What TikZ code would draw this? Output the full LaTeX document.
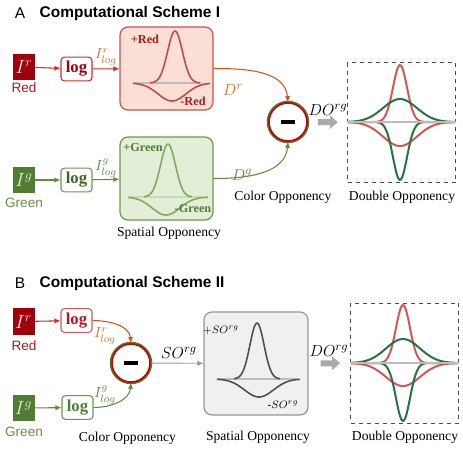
\documentclass[tikz,border=0pt]{standalone}
\usepackage{fontspec}
\setmainfont{Liberation Serif}
\setsansfont{Liberation Sans}
\usetikzlibrary{arrows.meta}

\definecolor{irred}{RGB}{158,0,12}
\definecolor{txtred}{RGB}{178,24,28}
\definecolor{arrred}{RGB}{205,45,45}
\definecolor{lblorange}{RGB}{214,118,48}
\definecolor{curveorange}{RGB}{225,78,22}
\definecolor{spredfill}{RGB}{250,223,212}
\definecolor{spreddraw}{RGB}{205,80,80}
\definecolor{curvered}{RGB}{200,72,82}
\definecolor{iggreen}{RGB}{80,125,50}
\definecolor{txtgreen}{RGB}{100,145,70}
\definecolor{arrgreen}{RGB}{95,140,65}
\definecolor{spgreenfill}{RGB}{226,238,214}
\definecolor{spgreendraw}{RGB}{108,152,78}
\definecolor{curvegreen}{RGB}{130,170,100}
\definecolor{dored}{RGB}{215,85,85}
\definecolor{dogreen}{RGB}{40,115,65}
\definecolor{spgrayfill}{RGB}{240,240,240}
\definecolor{spgraydraw}{RGB}{150,150,150}
\definecolor{curvegray}{RGB}{80,80,80}
\definecolor{basegray}{RGB}{188,188,188}
\definecolor{arrgray}{RGB}{170,170,170}
\definecolor{cored}{RGB}{205,0,0}
\definecolor{cogreen}{RGB}{80,120,50}

\tikzset{
  inbox/.style={minimum width=16.5pt, minimum height=20pt, inner sep=0pt, text=white!80!gray, font=\fontsize{14}{14}\selectfont},
  logbox/.style={rounded corners=2.5pt, line width=0.8pt, fill=white, minimum width=23.25pt, minimum height=17.75pt, inner sep=0pt, font=\fontsize{12.5}{14}\selectfont\bfseries},
  spbox/.style={rounded corners=6pt, line width=0.9pt, minimum width=69.75pt, minimum height=62.25pt, inner sep=0pt},
  dobox/.style={draw=black!70, dashed, line width=0.6pt, minimum width=81pt, minimum height=90pt, inner sep=0pt},
  opcircle/.style={circle, minimum size=28.5pt, inner sep=0pt, fill=white, draw=cored, line width=1.2pt, preaction={draw=cogreen, line width=3.4pt}},
  caption/.style={font=\fontsize{10.2}{12}\selectfont},
  colname/.style={font=\sffamily\fontsize{10.2}{12}\selectfont},
  title/.style={font=\sffamily\bfseries\fontsize{11.6}{14}\selectfont, anchor=west},
  panel/.style={font=\sffamily\fontsize{11.6}{14}\selectfont},
  sign/.style={font=\bfseries\fontsize{9.2}{11}\selectfont, inner sep=0.5pt},
  lbl/.style={inner sep=0.5pt},
  rarrow/.style={line width=0.8pt, -{Latex[length=4.5pt,width=4pt]}},
  bigarrow/.style={draw=arrgray, line width=4.5pt, -{Triangle[length=6pt,width=10pt]}},
  zeroline/.style={draw=basegray, line width=2.2pt},
}

\begin{document}
\begin{tikzpicture}[x=0.75pt, y=-0.75pt]
\useasboundingbox (0,0) rectangle (463,451);

%%%%%%%%%%%%%%%%%%%%%%%%%%%%%%%%%%%%%%%%%%%% scheme I
\node[panel] (panA) at (20,13) {A};
\node[title] (titA) at (35,13) {Computational Scheme I};

\node[inbox, fill=irred] (IrA) at (24,67) {$I^r$};
\node[colname, text=txtred] (redA) at (24,88) {Red};
\node[logbox, draw=arrred, text=irred] (logrA) at (76.5,69) {log};
\node[spbox, draw=spreddraw, fill=spredfill] (spRA) at (166.5,68.5) {};

\node[inbox, fill=iggreen] (IgA) at (24,180) {$I^g$};
\node[colname, text=txtgreen] (greenA) at (24,203) {Green};
\node[logbox, draw=spgreendraw, text=iggreen!80!black] (loggA) at (76.5,180) {log};
\node[spbox, draw=spgreendraw, fill=spgreenfill] (spGA) at (166.5,178.5) {};

\node[opcircle] (coA) at (288,122) {\rule[-1.15pt]{10pt}{2.3pt}};
\node[dobox] (DOA) at (401.5,122.5) {};

% curves in the red box
\draw[zeroline] (133,83) -- (201,83);
\draw[curvered, line width=1.2pt] plot[domain=150:200, samples=50, smooth] (\x,{83-52*exp(-((\x-175)*(\x-175))/110)});
\draw[curvered, line width=1.2pt] plot[domain=133:210, samples=50, smooth] (\x,{83+18*exp(-((\x-172)*(\x-172))/390)});
\node[sign, text=txtred] (plusR) at (145,39) {+Red};
\node[sign, text=txtred] (minusR) at (193,101) {-Red};

% curves in the green box
\draw[zeroline, draw=curvegreen!45] (130,197) -- (203,197);
\draw[curvegreen, line width=1.2pt] plot[domain=144:192, samples=50, smooth] (\x,{197-53*exp(-((\x-168)*(\x-168))/110)});
\draw[curvegreen, line width=1.2pt] plot[domain=128:208, samples=50, smooth] (\x,{197+18*exp(-((\x-166)*(\x-166))/390)});
\node[sign, text=txtgreen!85!black] (plusG) at (143,147) {+Green};
\node[sign, text=txtgreen!85!black] (minusG) at (193,208) {-Green};

% double opponency I
\draw[dored, line width=1.5pt] plot[domain=348:455, samples=80, smooth] (\x,{122-57*exp(-((\x-400)*(\x-400))/98)});
\draw[dored, line width=1.5pt] plot[domain=348:455, samples=80, smooth] (\x,{122+24*exp(-((\x-400)*(\x-400))/578)});
\draw[dogreen, line width=1.5pt] plot[domain=348:455, samples=80, smooth] (\x,{122-23*exp(-((\x-400)*(\x-400))/578)});
\draw[dogreen, line width=1.5pt] plot[domain=348:455, samples=80, smooth] (\x,{122+58*exp(-((\x-400)*(\x-400))/98)});
\draw[zeroline, line width=2pt] (DOA.west |- 0,122) -- (DOA.east |- 0,122);

% connectors
\draw[rarrow, arrred] (IrA) -- (logrA);
\draw[rarrow, arrred] (logrA) -- (spRA);
\draw[rarrow, arrgreen] (IgA) -- (loggA);
\draw[rarrow, arrgreen] (loggA) -- (spGA);
\draw[rarrow, curveorange] (spRA.east) to[out=0, in=95] (coA.north);
\draw[rarrow, arrgreen] (spGA.east) to[out=0, in=-95] (coA.south);
\draw[bigarrow, shorten <=7.5pt, shorten >=7pt] (coA) -- (DOA);

\node[lbl, text=lblorange, font=\fontsize{11}{12}\selectfont] (lrA) at (106,57) {$I^r_{log}$};
\node[lbl, text=txtgreen, font=\fontsize{11}{12}\selectfont] (lgA) at (106,168) {$I^g_{log}$};
\node[lbl, text=lblorange!90!red, font=\fontsize{13}{14}\selectfont] (DrA) at (233,90) {$D^r$};
\node[lbl, text=arrgreen, font=\fontsize{13}{14}\selectfont] (DgA) at (242,175) {$D^g$};
\node[lbl, font=\fontsize{13}{14}\selectfont] (DOlA) at (328,110) {$DO^{rg}$};

\node[caption] (capcoA) at (283,197) {Color Opponency};
\node[caption] (capspA) at (169,233) {Spatial Opponency};
\node[caption] (capdoA) at (402,197) {Double Opponency};

%%%%%%%%%%%%%%%%%%%%%%%%%%%%%%%%%%%%%%%%%%%% scheme II
\node[panel] (panB) at (20,283) {B};
\node[title] (titB) at (35,283) {Computational Scheme II};

\node[inbox, fill=irred] (IrB) at (23.5,321.5) {$I^r$};
\node[colname, text=txtred] (redB) at (24,346) {Red};
\node[logbox, draw=arrred!80, text=txtred] (logrB) at (76.5,320.5) {log};

\node[inbox, fill=iggreen] (IgB) at (23.5,408) {$I^g$};
\node[colname, text=txtgreen] (greenB) at (24,432) {Green};
\node[logbox, draw=spgreendraw, text=iggreen] (loggB) at (77.5,407.5) {log};

\node[opcircle] (coB) at (131,363) {\rule[-1.15pt]{10pt}{2.3pt}};
\node[spbox, draw=spgraydraw, fill=spgrayfill, minimum width=78pt, minimum height=77.25pt] (spB) at (256,363.5) {};
\node[dobox] (DOB) at (404.5,363) {};

% curves in the gray box
\draw[zeroline] (217,379) -- (297,379);
\draw[curvegray, line width=1.2pt] plot[domain=234:280, samples=50, smooth] (\x,{379-56*exp(-((\x-257)*(\x-257))/100)});
\draw[curvegray, line width=1.2pt] plot[domain=217:300, samples=50, smooth] (\x,{379+18*exp(-((\x-259)*(\x-259))/420)});
\node[lbl, font=\fontsize{8.5}{10}\selectfont] (plusS) at (221,330) {$+SO^{rg}$};
\node[lbl, font=\fontsize{8.5}{10}\selectfont] (minusS) at (283,405) {$\textrm{-}SO^{rg}$};

% double opponency II
\draw[dored, line width=1.5pt] plot[domain=351:458, samples=80, smooth] (\x,{363-58*exp(-((\x-403)*(\x-403))/98)});
\draw[dored, line width=1.5pt] plot[domain=351:458, samples=80, smooth] (\x,{363+23*exp(-((\x-403)*(\x-403))/578)});
\draw[dogreen, line width=1.5pt] plot[domain=351:458, samples=80, smooth] (\x,{363-24*exp(-((\x-403)*(\x-403))/578)});
\draw[dogreen, line width=1.5pt] plot[domain=351:458, samples=80, smooth] (\x,{363+58*exp(-((\x-403)*(\x-403))/98)});
\draw[zeroline, line width=2pt] (DOB.west |- 0,363) -- (DOB.east |- 0,363);

% connectors
\draw[rarrow, arrred] (IrB) -- (logrB);
\draw[rarrow, arrgreen] (IgB) -- (loggB);
\draw[rarrow, curveorange] (logrB.east) to[out=0, in=95] (coB.north);
\draw[rarrow, arrgreen] (loggB.east) to[out=0, in=-95] (coB.south);
\draw[rarrow, spgraydraw, line width=0.7pt] (coB) -- (spB);
\draw[bigarrow, shorten <=9pt, shorten >=7.5pt] (spB) -- (DOB);

\node[lbl, text=lblorange, font=\fontsize{11}{12}\selectfont] (lrB) at (105,336) {$I^r_{log}$};
\node[lbl, text=txtgreen, font=\fontsize{11}{12}\selectfont] (lgB) at (105,395) {$I^g_{log}$};
\node[lbl, font=\fontsize{13}{14}\selectfont] (SOlB) at (179,353) {$SO^{rg}$};
\node[lbl, font=\fontsize{13}{14}\selectfont] (DOlB) at (329,351) {$DO^{rg}$};

\node[caption] (capcoB) at (127.5,438) {Color Opponency};
\node[caption] (capspB) at (258,437) {Spatial Opponency};
\node[caption] (capdoB) at (405,437) {Double Opponency};

\end{tikzpicture}
\end{document}
